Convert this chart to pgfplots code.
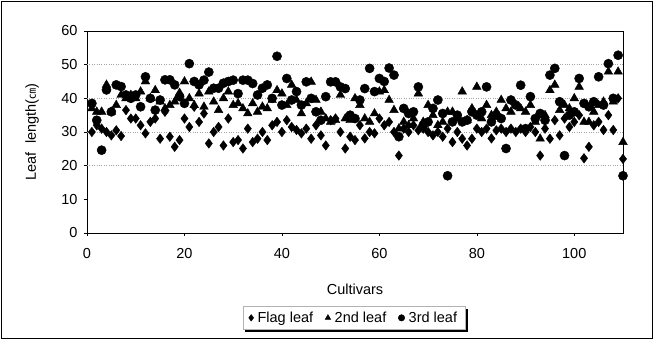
\documentclass[border=0pt]{standalone}
\usepackage{fontspec}
\setmainfont{Liberation Sans}
\newfontfamily\cjk{Noto Sans CJK SC}
\usepackage{pgfplots}
\usepackage{pgfplotstable}
\pgfplotsset{compat=1.18}
\usetikzlibrary{shadows}

\pgfplotstableread{
x flag second third
1 30 37 38.5
2 32 36 33.5
3 31 36 24.6
4 30 44 42.5
5 29 36 36
6 30.5 38 44
7 28.8 41 43.5
8 36.5 40 41
9 34 41 40
10 34 40 41
11 32 42 37.5
12 29.6 45 46.4
13 33 40 40
14 34 42.4 36.5
15 28 39 39.5
16 36 37 45.5
17 28.6 38 45.5
18 25.6 39 44
19 27.6 41.6 40.5
20 34 45 38.5
21 31.5 40 50.3
22 37.5 38 45
23 33 41.4 44
24 35.5 37.5 45.4
25 26.6 42 47.8
26 30 39 43
27 31.5 36.5 43
28 26 40 44.5
29 34 42 45
30 27 38 45.4
31 27.6 38.5 41.4
32 25.1 37 45.4
33 31 35.5 45.4
34 27 38.5 44.4
35 28 36 41
36 30 37.5 43
37 27.6 37 44
38 32 39.5 40
39 33 42.4 52.5
40 30 41.4 38
41 33.5 38 45.9
42 31.5 44 39.5
43 30.6 39.5 42
44 29.6 35.5 38
45 31 38.5 44.9
46 28 44.9 40
47 32 39.5 36
48 29 36 33.5
49 26 34 40.5
50 33.5 33 44.9
51 34 33.5 44.9
52 30 41 43.4
53 25.1 34 42.9
54 28.6 33.5 35
55 27.6 40 34
56 32 38 39.5
57 28.1 34 42.9
58 30 33 48.9
59 29.6 35.5 42
60 34 42 45.9
61 32 42.4 45
62 33 39.5 49
63 30 36.5 46.9
64 23 31 28.6
65 31 33 37
66 30 32 35.5
67 32 34 36
68 30.5 41.4 43.4
69 31 33 32
70 30 38 33
71 29 35 37
72 30 32 39.5
73 28.6 33 35.5
74 31 36 17
75 27 36 33
76 30 34 35
77 28 42 33
78 26 33.5 33.5
79 28 37 36
80 31 43.4 35
81 30 34 36
82 31 38 43.4
83 28.1 35 33
84 30.5 36 35
85 31 39.5 34
86 30 37 25.1
87 31 36 39.5
88 30 38 38
89 31 37 43.9
90 30 36 31
91 31.5 38 40.5
92 30 33 34
93 23 28 35.5
94 31 35 33.5
95 28 42.4 46.9
96 33.5 44 48.9
97 29 36.5 39
98 34 38 23
99 31.5 37 35
100 33 40 36
101 35 43.4 45.9
102 22.2 33 38.5
103 25.6 33 37.5
104 32 36 39
105 33 38 46.4
106 30.6 39 38
107 35 47.9 50.3
108 30.6 39 40
109 40 47.9 52.8
110 22 27 17
}\leafdata

\begin{document}
\begin{tikzpicture}
\path[use as bounding box] (0,0) rectangle (654pt,340pt);
\draw[line width=0.9pt] (1.5pt,1.5pt) rectangle (652.5pt,338.5pt);
\begin{axis}[
  at={(87pt,107pt)}, anchor=south west,
  width=536pt, height=202pt, scale only axis,
  xmin=0, xmax=110, ymin=0, ymax=60,
  xtick={0,20,...,100}, ytick={0,10,...,60},
  axis line style={line width=0.9pt},
  tick align=outside, major tick length=3pt,
  xtick pos=bottom, ytick pos=left,
  tick style={black, line width=0.6pt},
  /pgf/number format/assume math mode=true,
  tick label style={font=\fontsize{14.5}{16}\selectfont},
  xticklabel style={yshift=-9pt},
  yticklabel style={xshift=-3pt},
  extra y ticks={20,30,40,50},
  extra y tick labels={},
  extra y tick style={grid=major, major tick length=0pt},
  major grid style={gray!70, dotted, line width=0.8pt},
  xlabel={Cultivars},
  ylabel={Leaf\ \ length({\cjk\fontsize{11}{12}\selectfont ㎝})},
  label style={font=\fontsize{14.5}{16}\selectfont},
  xlabel style={at={(axis description cs:0.5,-0.28)}, anchor=center},
  ylabel style={at={(axis description cs:-0.1026,0.5)}, anchor=center, rotate=0},
  legend columns=3,
  legend style={at={(0.498,-0.42)}, anchor=center,
    draw=gray!60, line width=0.5pt, fill=white,
    drop shadow={shadow xshift=2.5pt, shadow yshift=-2.5pt, fill=black, opacity=1},
    font=\fontsize{14.5}{16}\selectfont,
    inner xsep=6pt, inner ysep=3.5pt,
    /tikz/every even column/.append style={column sep=10pt},
    /tikz/every odd column/.append style={column sep=2pt}},
  legend image code/.code={\draw[#1, mark size=3.2pt] plot coordinates {(0.1cm,0cm)};},
]
\addplot[only marks, mark=diamond*, mark size=4.8pt, black, mark options={fill=black}]
  table[x=x, y=flag] {\leafdata};
\addlegendentry{Flag leaf}
\addplot[only marks, mark=triangle*, mark size=5pt, black, mark options={fill=black}]
  table[x=x, y=second] {\leafdata};
\addlegendentry{2nd leaf}
\addplot[only marks, mark=*, mark size=4.6pt, black, mark options={fill=black}]
  table[x=x, y=third] {\leafdata};
\addlegendentry{3rd leaf}
\end{axis}
\end{tikzpicture}
\end{document}
